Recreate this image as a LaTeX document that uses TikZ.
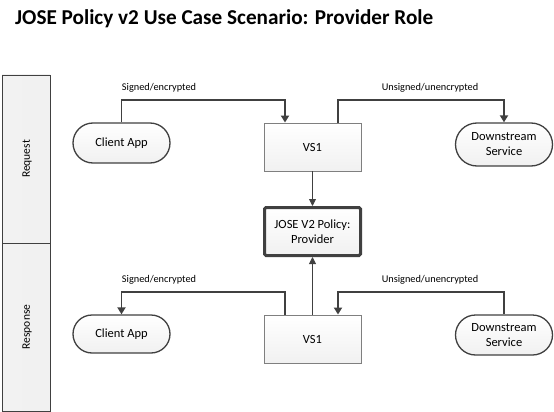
\documentclass[tikz,border=0pt]{standalone}
\usepackage{fontspec}
\setmainfont{Carlito}
\usetikzlibrary{arrows.meta,shapes.misc}
\definecolor{ln}{HTML}{404040}
\definecolor{bx}{HTML}{7F7F7F}
\definecolor{fl}{HTML}{F2F2F2}
\tikzset{
  lane/.style={draw=ln, line width=0.9pt, left color=fl, right color=fl!70!gray!30!white},
  lanelabel/.style={rotate=90, font=\fontsize{11.5}{14}\selectfont},
  term/.style={rounded rectangle, draw=ln, line width=1.3pt, top color=white, bottom color=fl!80!gray!40!white, minimum width=97pt, minimum height=40pt, inner sep=0pt, align=center, font=\fontsize{12.5}{15}\selectfont},
  proc/.style={rectangle, draw=bx, line width=0.9pt, top color=white, bottom color=fl!80!gray!40!white, minimum width=97pt, minimum height=48pt, inner sep=0pt, align=center, font=\fontsize{12.5}{15}\selectfont},
  policy/.style={rectangle, rounded corners=1.5pt, draw=ln, line width=3pt, top color=white, bottom color=fl!80!gray!40!white, minimum width=96pt, minimum height=48pt, inner sep=0pt, align=center, font=\fontsize{12.5}{15.5}\selectfont},
  flow/.style={draw=ln, line width=1.8pt, -{Triangle[length=7pt,width=8pt]}},
  thin/.style={draw=ln, line width=0.9pt, -{Triangle[length=7pt,width=7pt]}},
  lbl/.style={font=\fontsize{10.3}{12}\selectfont, inner sep=0pt}
}
\begin{document}
\begin{tikzpicture}[x=1pt,y=-1pt]
\useasboundingbox (0,0) rectangle (554,412);
\node[anchor=west, font=\bfseries\fontsize{21.2}{25}\selectfont, inner sep=0pt] (title) at (15,19) {JOSE Policy v2 Use Case Scenario: Provider Role};
% lanes
\path[lane] (2,75) rectangle (50,243);
\path[lane] (2,243) rectangle (50,411);
\node[lanelabel] (lreq) at (27,159) {Request};
\node[lanelabel] (lresp) at (27,327) {Response};
% request nodes
\node[term] (ca1) at (121.5,143) {Client App};
\node[proc] (vs1a) at (312.5,147) {VS1};
\node[term, minimum height=43pt] (ds1) at (504,144.5) {Downstream\\Service};
\node[policy] (jose) at (312.5,231.5) {JOSE V2 Policy:\\Provider};
% response nodes
\node[term, minimum height=38pt] (ca2) at (121.5,334) {Client App};
\node[proc] (vs1b) at (312.5,339) {VS1};
\node[term] (ds2) at (504,335) {Downstream\\Service};
% request connectors
\draw[flow] (ca1.north) |- (200,100) coordinate (c1) -| ([xshift=-27.5pt]vs1a.north);
\node[lbl] (l1) at (159,88) {Signed/encrypted};
\draw[flow] ([xshift=25.5pt]vs1a.north) |- (420,100) coordinate (c2) -| (ds1.north);
\node[lbl] (l2) at (430,88) {Unsigned/unencrypted};
\draw[thin] (vs1a.south) -- (jose.north);
% response connectors
\draw[thin] (vs1b.north) -- (jose.south);
\draw[flow] ([xshift=-27.5pt]vs1b.north) |- (200,292) coordinate (c3) -| (ca2.north);
\node[lbl] (l3) at (159,280) {Signed/encrypted};
\draw[flow] (ds2.north) |- (420,292) coordinate (c4) -| ([xshift=25.5pt]vs1b.north);
\node[lbl] (l4) at (430,280) {Unsigned/unencrypted};
\end{tikzpicture}
\end{document}
